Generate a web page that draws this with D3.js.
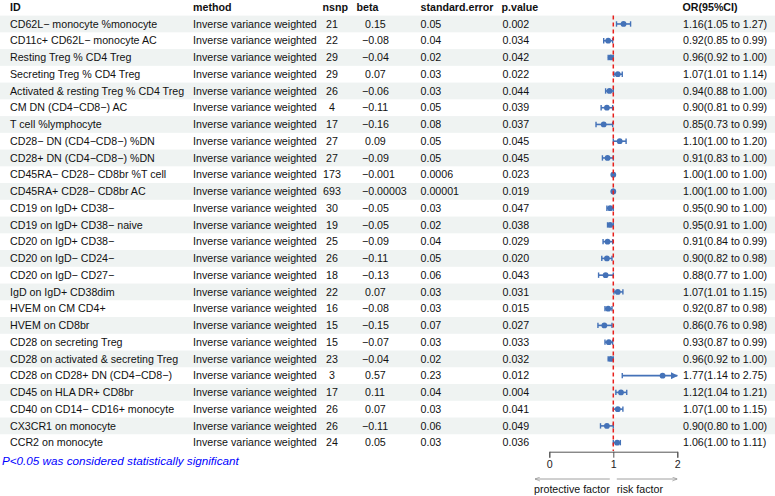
<!DOCTYPE html>
<html lang="en">
<head>
<meta charset="utf-8">
<title>Forest plot</title>
<script src="https://d3js.org/d3.v7.min.js"></script>
<style>
  body { margin: 0; background: #fff; }
  svg text { font-family: "Liberation Sans", Arial, sans-serif; font-size: 10.67px; fill: #111; }
  .hdr { font-weight: bold; }
  .note { font-style: italic; fill: #0000ff; font-size: 11.7px; }
  .axis text { font-size: 10.67px; fill: #222; }
  .axis path, .axis line { stroke: #555; }
</style>
</head>
<body>
<svg id="chart" width="775" height="496"></svg>
<script>
// exposures (rows, top to bottom)
var ids = [
  "CD62L\u2212 monocyte %monocyte",
  "CD11c+ CD62L\u2212 monocyte AC",
  "Resting Treg % CD4 Treg",
  "Secreting Treg % CD4 Treg",
  "Activated & resting Treg % CD4 Treg",
  "CM DN (CD4\u2212CD8\u2212) AC",
  "T cell %lymphocyte",
  "CD28\u2212 DN (CD4\u2212CD8\u2212) %DN",
  "CD28+ DN (CD4\u2212CD8\u2212) %DN",
  "CD45RA\u2212 CD28\u2212 CD8br %T cell",
  "CD45RA+ CD28\u2212 CD8br AC",
  "CD19 on IgD+ CD38\u2212",
  "CD19 on IgD+ CD38\u2212 naive",
  "CD20 on IgD+ CD38\u2212",
  "CD20 on IgD\u2212 CD24\u2212",
  "CD20 on IgD\u2212 CD27\u2212",
  "IgD on IgD+ CD38dim",
  "HVEM on CM CD4+",
  "HVEM on CD8br",
  "CD28 on secreting Treg",
  "CD28 on activated & secreting Treg",
  "CD28 on CD28+ DN (CD4\u2212CD8\u2212)",
  "CD45 on HLA DR+ CD8br",
  "CD40 on CD14\u2212 CD16+ monocyte",
  "CX3CR1 on monocyte",
  "CCR2 on monocyte"
];
var method = "Inverse variance weighted";
var nsnp = [21, 22, 29, 29, 26, 4, 17, 27, 27, 173, 693, 30, 19, 25, 26, 18, 22, 16, 15, 15, 23, 3, 17, 26, 26, 24];
var beta = [0.15, -0.08, -0.04, 0.07, -0.06, -0.11, -0.16, 0.09, -0.09, -0.001, -0.00003, -0.05, -0.05, -0.09, -0.11, -0.13, 0.07, -0.08, -0.15, -0.07, -0.04, 0.57, 0.11, 0.07, -0.11, 0.05];
var se = [0.05, 0.04, 0.02, 0.03, 0.03, 0.05, 0.08, 0.05, 0.05, 0.0006, 0.00001, 0.03, 0.02, 0.04, 0.05, 0.06, 0.03, 0.03, 0.07, 0.03, 0.02, 0.23, 0.04, 0.03, 0.06, 0.03];
var pval = [0.002, 0.034, 0.042, 0.022, 0.044, 0.039, 0.037, 0.045, 0.045, 0.023, 0.019, 0.047, 0.038, 0.029, 0.020, 0.043, 0.031, 0.015, 0.027, 0.033, 0.032, 0.012, 0.004, 0.041, 0.049, 0.036];
var or = [1.16, 0.92, 0.96, 1.07, 0.94, 0.90, 0.85, 1.10, 0.91, 1.00, 1.00, 0.95, 0.95, 0.91, 0.90, 0.88, 1.07, 0.92, 0.86, 0.93, 0.96, 1.77, 1.12, 1.07, 0.90, 1.06];
var lower = [1.05, 0.85, 0.92, 1.01, 0.88, 0.81, 0.73, 1.00, 0.83, 1.00, 1.00, 0.90, 0.91, 0.84, 0.82, 0.77, 1.01, 0.87, 0.76, 0.87, 0.92, 1.14, 1.04, 1.00, 0.80, 1.00];
var upper = [1.27, 0.99, 1.00, 1.14, 1.00, 0.99, 0.99, 1.20, 1.00, 1.00, 1.00, 1.00, 1.00, 0.99, 0.98, 1.00, 1.15, 0.98, 0.98, 0.99, 1.00, 2.75, 1.21, 1.15, 1.00, 1.11];
var xTicks = [0, 1, 2];

var svg = d3.select("#chart");
var ciCol = "#4472b8";
var minus = function(s) { return s.replace("-", "\u2212"); };

var y = d3.scaleBand()
    .domain(d3.range(ids.length))
    .range([15.6, 451])
    .paddingInner(0).paddingOuter(0);
var x = d3.scaleLinear().domain([0, 2]).range([549.3, 677.3]);
var headerY = 7.5;

// shaded bands
svg.selectAll("rect.band")
    .data(d3.range(ids.length).filter(function(i) { return i % 2 === 0; }))
    .enter().append("rect")
    .attr("x", 0).attr("width", 775)
    .attr("y", function(i) { return y(i); })
    .attr("height", y.bandwidth())
    .attr("fill", "#eff3f2");

// header
var headers = [
  {t: "ID", x: 10}, {t: "method", x: 193}, {t: "nsnp", x: 322.5},
  {t: "beta", x: 356.5}, {t: "standard.error", x: 420.5}, {t: "p.value", x: 501.5},
  {t: "OR(95%CI)", x: 682.5}
];
svg.selectAll("text.hdr")
    .data(headers).enter().append("text")
    .attr("class", "hdr")
    .attr("x", function(d) { return d.x; })
    .attr("y", headerY).attr("dy", "0.35em")
    .text(function(d) { return d.t; });

var rows = svg.selectAll("g.row")
    .data(d3.range(ids.length)).enter().append("g")
    .attr("class", "row")
    .attr("transform", function(i) { return "translate(0," + (y(i) + y.bandwidth() / 2) + ")"; });

function col(xpos, fn, anchor) {
  rows.append("text")
      .attr("x", xpos).attr("dy", "0.35em")
      .attr("text-anchor", anchor || "start")
      .text(fn);
}
col(10, function(i) { return ids[i]; });
col(193, function() { return method; });
col(332, function(i) { return nsnp[i]; }, "middle");
rows.append("text")
    .attr("x", function(i) { return beta[i] < 0 ? 362 : 365; })
    .attr("dy", "0.35em")
    .text(function(i) { return minus(String(beta[i])); });
col(420.5, function(i) { return String(se[i]); });
col(502.5, function(i) { return pval[i].toFixed(3); });
col(683, function(i) {
  return or[i].toFixed(2) + "(" + lower[i].toFixed(2) + " to " + upper[i].toFixed(2) + ")";
});

// reference line
svg.append("line")
    .attr("x1", x(1)).attr("x2", x(1))
    .attr("y1", y(0)).attr("y2", y(ids.length - 1) + y.bandwidth())
    .attr("stroke", "#e8201c").attr("stroke-width", 1.5)
    .attr("stroke-dasharray", "4,3");

// arrow marker for truncated CI
var defs = svg.append("defs");
defs.append("marker")
    .attr("id", "ciArrow").attr("viewBox", "0 0 10 10")
    .attr("refX", 9).attr("refY", 5)
    .attr("markerWidth", 4.5).attr("markerHeight", 4.5)
    .attr("markerUnits", "strokeWidth")
    .attr("orient", "auto")
    .append("path").attr("d", "M0,0 L10,5 L0,10 Z").attr("fill", ciCol);
defs.append("marker")
    .attr("id", "labArrow").attr("viewBox", "0 0 10 10")
    .attr("refX", 10).attr("refY", 5)
    .attr("markerWidth", 5).attr("markerHeight", 5)
    .attr("markerUnits", "userSpaceOnUse")
    .attr("orient", "auto-start-reverse")
    .append("path").attr("d", "M0,1 L10,5 L0,9").attr("fill", "none")
    .attr("stroke", "#888").attr("stroke-width", 1.2);

// confidence intervals
var xMax = x.domain()[1];
rows.append("line")
    .attr("x1", function(i) { return x(lower[i]); })
    .attr("x2", function(i) { return x(Math.min(upper[i], xMax)); })
    .attr("stroke", ciCol).attr("stroke-width", 1.6)
    .attr("marker-end", function(i) { return upper[i] > xMax ? "url(#ciArrow)" : null; });
rows.append("line")
    .attr("x1", function(i) { return x(lower[i]); })
    .attr("x2", function(i) { return x(lower[i]); })
    .attr("y1", -2.7).attr("y2", 2.7)
    .attr("stroke", ciCol).attr("stroke-width", 1.4);
rows.filter(function(i) { return upper[i] <= xMax; }).append("line")
    .attr("x1", function(i) { return x(upper[i]); })
    .attr("x2", function(i) { return x(upper[i]); })
    .attr("y1", -2.7).attr("y2", 2.7)
    .attr("stroke", ciCol).attr("stroke-width", 1.4);
rows.append("circle")
    .attr("cx", function(i) { return x(or[i]); })
    .attr("r", 2.9)
    .attr("fill", ciCol);

// x axis
var axisY = 451.7;
svg.append("g")
    .attr("class", "axis")
    .attr("transform", "translate(0," + axisY + ")")
    .call(d3.axisBottom(x).tickValues(xTicks).tickFormat(d3.format("d")).tickSize(6).tickSizeOuter(6))
    .call(function(g) { g.selectAll("text").attr("y", 9); });

// direction arrows
var arrY = 479;
svg.append("line")
    .attr("x1", x(1) - 3.5).attr("x2", 535)
    .attr("y1", arrY).attr("y2", arrY)
    .attr("stroke", "#888").attr("stroke-width", 0.8)
    .attr("marker-end", "url(#labArrow)");
svg.append("line")
    .attr("x1", x(1) + 3.5).attr("x2", x(2))
    .attr("y1", arrY).attr("y2", arrY)
    .attr("stroke", "#888").attr("stroke-width", 0.8)
    .attr("marker-end", "url(#labArrow)");
svg.append("text")
    .attr("x", x(1) - 3.5).attr("y", 489.5).attr("dy", "0.35em")
    .attr("text-anchor", "end")
    .text("protective factor");
svg.append("text")
    .attr("x", x(1) + 3.5).attr("y", 489.5).attr("dy", "0.35em")
    .text("risk factor");

// footnote
svg.append("text")
    .attr("class", "note")
    .attr("x", 2).attr("y", 460.7).attr("dy", "0.35em")
    .text("P<0.05 was considered statistically significant");
</script>
</body>
</html>
